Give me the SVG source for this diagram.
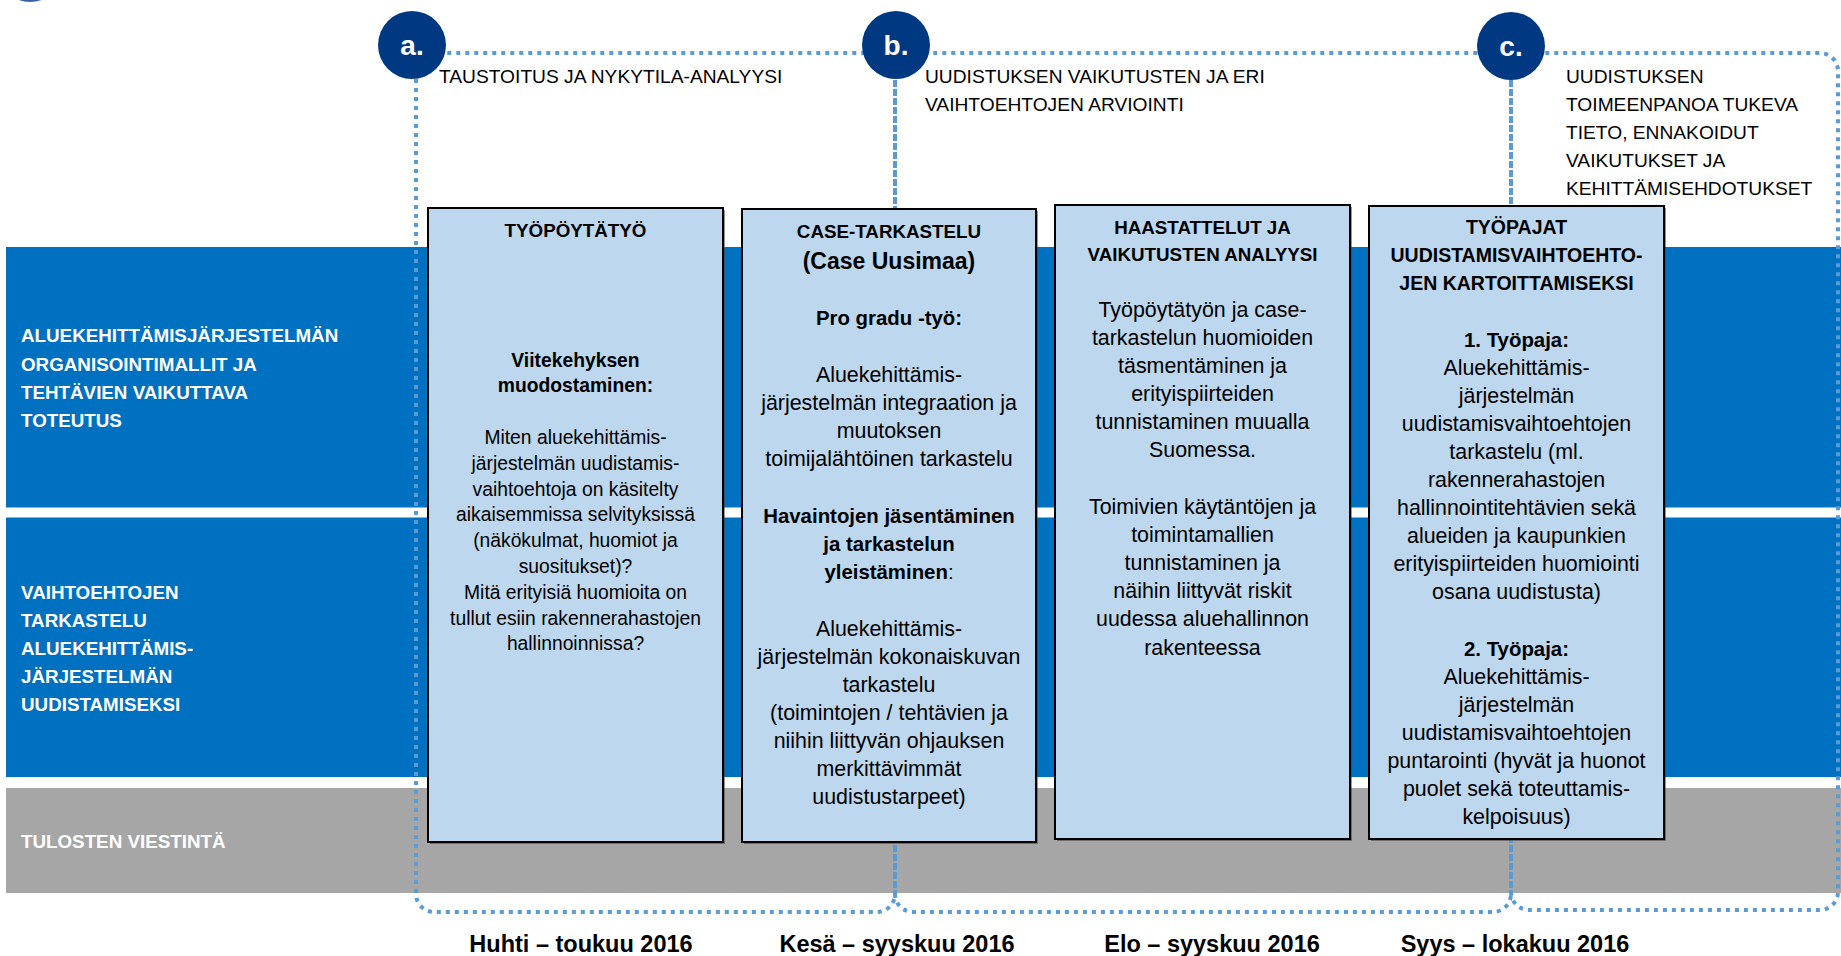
<svg xmlns="http://www.w3.org/2000/svg" width="1841" height="956" viewBox="0 0 1841 956">
<style>
  .lane-blue { fill: #0070C0; }
  .lane-grey { fill: #A6A6A6; }
  .lane-label { font-family: "Liberation Sans", Arial, sans-serif; font-weight: bold; font-size: 18.8px; fill: #FFFFFF; }
  .frame { fill: none; stroke: #5B9BD5; stroke-width: 4; stroke-dasharray: 4 5; }
  .frame-shared { fill: none; stroke: #5B9BD5; stroke-width: 4; stroke-dasharray: 7 2; }
  .box { fill: #BDD7EE; stroke: #000000; stroke-width: 2; }
  .shadow { fill: #3F3F3F; opacity: 0.55; }
  .phase { fill: #003882; }
  .phase-label { font-family: "Liberation Sans", Arial, sans-serif; font-weight: bold; font-size: 28px; fill: #FFFFFF; text-anchor: middle; }
  .head { font-family: "Liberation Sans", Arial, sans-serif; font-size: 19.2px; fill: #000000; }
  .title { font-family: "Liberation Sans", Arial, sans-serif; font-weight: bold; font-size: 18.8px; fill: #000000; text-anchor: middle; }
  .body1 { font-family: "Liberation Sans", Arial, sans-serif; font-size: 19.3px; fill: #000000; text-anchor: middle; }
  .body { font-family: "Liberation Sans", Arial, sans-serif; font-size: 21.4px; fill: #000000; text-anchor: middle; }
  .b { font-weight: bold; }
  .date { font-family: "Liberation Sans", Arial, sans-serif; font-weight: bold; font-size: 23.5px; fill: #000000; text-anchor: middle; }
</style>

<rect width="1841" height="956" fill="#FFFFFF"/>
<circle cx="30" cy="-32" r="34" fill="#3A64A8"/>

<g id="lanes">
  <g id="lane-1">
    <rect class="lane-blue" x="6" y="247" width="1835" height="260.5"/>
    <text class="lane-label" x="21" y="342.3">ALUEKEHITTÄMISJÄRJESTELMÄN</text>
    <text class="lane-label" x="21" y="370.6">ORGANISOINTIMALLIT JA</text>
    <text class="lane-label" x="21" y="398.9">TEHTÄVIEN VAIKUTTAVA</text>
    <text class="lane-label" x="21" y="427.2">TOTEUTUS</text>
  </g>
  <g id="lane-2">
    <rect class="lane-blue" x="6" y="517.5" width="1835" height="259.5"/>
    <text class="lane-label" x="21" y="599.3">VAIHTOEHTOJEN</text>
    <text class="lane-label" x="21" y="627.3">TARKASTELU</text>
    <text class="lane-label" x="21" y="655.3">ALUEKEHITTÄMIS-</text>
    <text class="lane-label" x="21" y="683.3">JÄRJESTELMÄN</text>
    <text class="lane-label" x="21" y="711.3">UUDISTAMISEKSI</text>
  </g>
  <g id="lane-3">
    <rect class="lane-grey" x="6" y="788" width="1835" height="105"/>
    <text class="lane-label" x="21" y="848.3">TULOSTEN VIESTINTÄ</text>
  </g>
</g>

<g id="connectors">
  <path class="frame" d="M 434 53 A 18 18 0 0 0 416 71 V 894 A 18 18 0 0 0 434 912 H 877 A 18 18 0 0 0 895 894"/>
  <path class="frame" d="M 895 894 A 18 18 0 0 0 913 912 H 1493 A 18 18 0 0 0 1511 894"/>
  <path class="frame" d="M 1511 892 A 18 18 0 0 0 1529 910 H 1820 A 18 18 0 0 0 1838 892 V 71 A 18 18 0 0 0 1820 53 H 434"/>
  <path class="frame-shared" d="M 895 53 V 894"/>
  <path class="frame-shared" d="M 1511 53 V 893"/>
</g>

<g id="box-1">
  <rect class="shadow" x="430" y="210" width="295" height="634"/>
  <rect class="box" x="428" y="208" width="295" height="634"/>
  <text class="title" x="575.5" y="237.3">TYÖPÖYTÄTYÖ</text>
  <text class="body1 b" x="575.5" y="366.7">Viitekehyksen</text>
  <text class="body1 b" x="575.5" y="392.3">muodostaminen:</text>
  <text class="body1" x="575.5" y="444">Miten aluekehittämis-</text>
  <text class="body1" x="575.5" y="469.8">järjestelmän uudistamis-</text>
  <text class="body1" x="575.5" y="495.6">vaihtoehtoja on käsitelty</text>
  <text class="body1" x="575.5" y="521.4">aikaisemmissa selvityksissä</text>
  <text class="body1" x="575.5" y="547.2">(näkökulmat, huomiot ja</text>
  <text class="body1" x="575.5" y="573">suositukset)?</text>
  <text class="body1" x="575.5" y="598.8">Mitä erityisiä huomioita on</text>
  <text class="body1" x="575.5" y="624.6">tullut esiin rakennerahastojen</text>
  <text class="body1" x="575.5" y="650.4">hallinnoinnissa?</text>
</g>

<g id="box-2">
  <rect class="shadow" x="744" y="211" width="294" height="633"/>
  <rect class="box" x="742" y="209" width="294" height="633"/>
  <text class="title" x="889" y="237.6">CASE-TARKASTELU</text>
  <text class="title" x="889" y="269.4" style="font-size:23px">(Case Uusimaa)</text>
  <text class="body b" x="889" y="324.5" style="font-size:20.4px">Pro gradu -työ:</text>
  <text class="body" x="889" y="382.4">Aluekehittämis-</text>
  <text class="body" x="889" y="410.2">järjestelmän integraation ja</text>
  <text class="body" x="889" y="438">muutoksen</text>
  <text class="body" x="889" y="466">toimijalähtöinen tarkastelu</text>
  <text class="body b" x="889" y="523.3" style="font-size:20.4px">Havaintojen jäsentäminen</text>
  <text class="body b" x="889" y="551.3" style="font-size:20.4px">ja tarkastelun</text>
  <text class="body b" x="889" y="579.3" style="font-size:20.4px">yleistäminen<tspan font-weight="normal">:</tspan></text>
  <text class="body" x="889" y="636">Aluekehittämis-</text>
  <text class="body" x="889" y="664">järjestelmän kokonaiskuvan</text>
  <text class="body" x="889" y="692">tarkastelu</text>
  <text class="body" x="889" y="720">(toimintojen / tehtävien ja</text>
  <text class="body" x="889" y="748">niihin liittyvän ohjauksen</text>
  <text class="body" x="889" y="776">merkittävimmät</text>
  <text class="body" x="889" y="804">uudistustarpeet)</text>
</g>

<g id="box-3">
  <rect class="shadow" x="1057" y="207" width="295" height="634"/>
  <rect class="box" x="1055" y="205" width="295" height="634"/>
  <text class="title" x="1202.5" y="233.5">HAASTATTELUT JA</text>
  <text class="title" x="1202.5" y="261.2">VAIKUTUSTEN ANALYYSI</text>
  <text class="body" x="1202.5" y="316.5">Työpöytätyön ja case-</text>
  <text class="body" x="1202.5" y="344.5">tarkastelun huomioiden</text>
  <text class="body" x="1202.5" y="372.5">täsmentäminen ja</text>
  <text class="body" x="1202.5" y="400.5">erityispiirteiden</text>
  <text class="body" x="1202.5" y="428.5">tunnistaminen muualla</text>
  <text class="body" x="1202.5" y="456.8">Suomessa.</text>
  <text class="body" x="1202.5" y="514.3">Toimivien käytäntöjen ja</text>
  <text class="body" x="1202.5" y="542.3">toimintamallien</text>
  <text class="body" x="1202.5" y="570.3">tunnistaminen ja</text>
  <text class="body" x="1202.5" y="598.3">näihin liittyvät riskit</text>
  <text class="body" x="1202.5" y="626.3">uudessa aluehallinnon</text>
  <text class="body" x="1202.5" y="654.5">rakenteessa</text>
</g>

<g id="box-4">
  <rect class="shadow" x="1371" y="208" width="295" height="633"/>
  <rect class="box" x="1369" y="206" width="295" height="633"/>
  <text class="title" x="1516.5" y="234.2" style="font-size:19.5px">TYÖPAJAT</text>
  <text class="title" x="1516.5" y="262.2" style="font-size:19.5px">UUDISTAMISVAIHTOEHTO-</text>
  <text class="title" x="1516.5" y="290.2" style="font-size:19.5px">JEN KARTOITTAMISEKSI</text>
  <text class="body b" x="1516.5" y="346.6" style="font-size:20.4px">1. Työpaja:</text>
  <text class="body" x="1516.5" y="374.5">Aluekehittämis-</text>
  <text class="body" x="1516.5" y="402.6">järjestelmän</text>
  <text class="body" x="1516.5" y="430.6">uudistamisvaihtoehtojen</text>
  <text class="body" x="1516.5" y="458.7">tarkastelu (ml.</text>
  <text class="body" x="1516.5" y="486.8">rakennerahastojen</text>
  <text class="body" x="1516.5" y="514.9">hallinnointitehtävien sekä</text>
  <text class="body" x="1516.5" y="543">alueiden ja kaupunkien</text>
  <text class="body" x="1516.5" y="571.1">erityispiirteiden huomiointi</text>
  <text class="body" x="1516.5" y="599.2">osana uudistusta)</text>
  <text class="body b" x="1516.5" y="655.5" style="font-size:20.4px">2. Työpaja:</text>
  <text class="body" x="1516.5" y="683.5">Aluekehittämis-</text>
  <text class="body" x="1516.5" y="711.6">järjestelmän</text>
  <text class="body" x="1516.5" y="739.7">uudistamisvaihtoehtojen</text>
  <text class="body" x="1516.5" y="767.8">puntarointi (hyvät ja huonot</text>
  <text class="body" x="1516.5" y="795.9">puolet sekä toteuttamis-</text>
  <text class="body" x="1516.5" y="824">kelpoisuus)</text>
</g>

<g id="phase-a">
  <circle class="phase" cx="412" cy="45" r="34"/>
  <text class="phase-label" x="412" y="55">a.</text>
  <text class="head" x="439" y="82.5">TAUSTOITUS JA NYKYTILA-ANALYYSI</text>
</g>
<g id="phase-b">
  <circle class="phase" cx="896" cy="45" r="34"/>
  <text class="phase-label" x="896" y="55">b.</text>
  <text class="head" x="925" y="82.5">UUDISTUKSEN VAIKUTUSTEN JA ERI</text>
  <text class="head" x="925" y="110.7">VAIHTOEHTOJEN ARVIOINTI</text>
</g>
<g id="phase-c">
  <circle class="phase" cx="1511" cy="46" r="34"/>
  <text class="phase-label" x="1511" y="56">c.</text>
  <text class="head" x="1566" y="82.5">UUDISTUKSEN</text>
  <text class="head" x="1566" y="110.7">TOIMEENPANOA TUKEVA</text>
  <text class="head" x="1566" y="138.9">TIETO, ENNAKOIDUT</text>
  <text class="head" x="1566" y="167.1">VAIKUTUKSET JA</text>
  <text class="head" x="1566" y="195.3">KEHITTÄMISEHDOTUKSET</text>
</g>

<g id="dates">
  <text class="date" x="581" y="951.5">Huhti – toukuu 2016</text>
  <text class="date" x="897" y="951.5">Kesä – syyskuu 2016</text>
  <text class="date" x="1212" y="951.5">Elo – syyskuu 2016</text>
  <text class="date" x="1515" y="951.5">Syys – lokakuu 2016</text>
</g>
</svg>
